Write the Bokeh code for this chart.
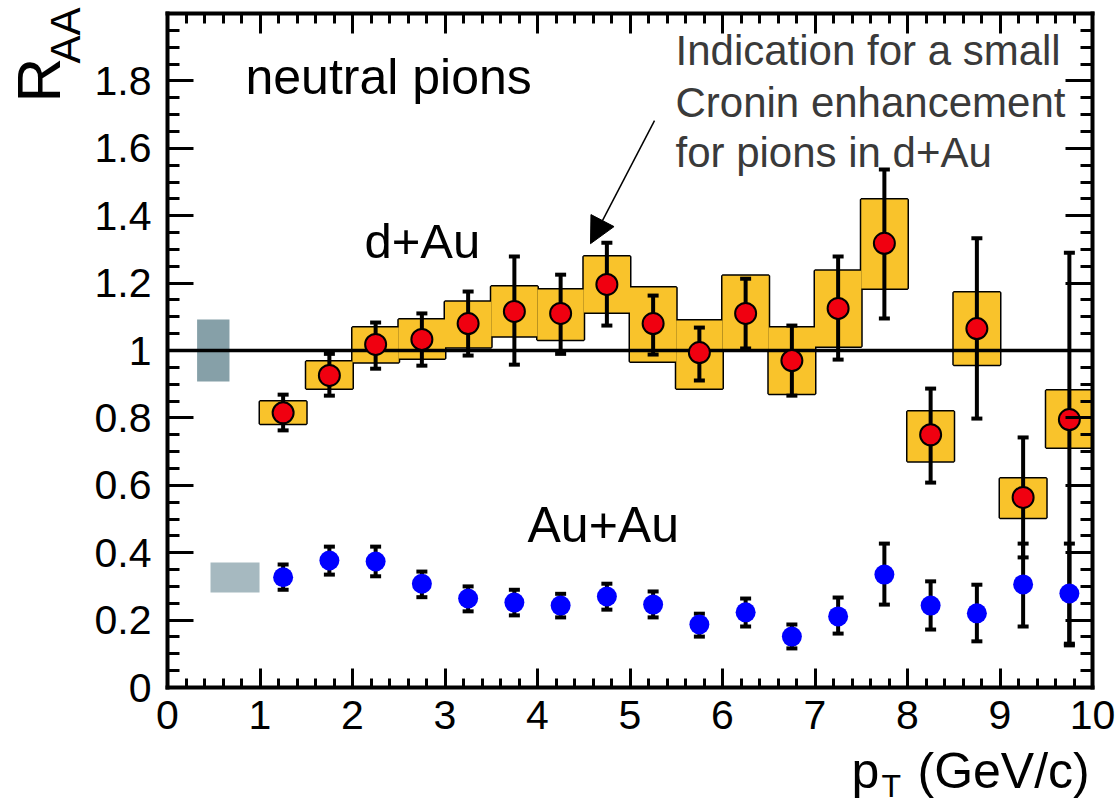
from bokeh.plotting import figure
from bokeh.models import (Range1d, FixedTicker, LinearAxis, Label, Arrow, NormalHead,
                          CustomJSTickFormatter, ColumnDataSource)
from bokeh.embed import file_html
from bokeh.resources import INLINE

# ---------------- data ----------------
pt = [1.25, 1.75, 2.25, 2.75, 3.25, 3.75, 4.25, 4.75, 5.25, 5.75,
      6.25, 6.75, 7.25, 7.75, 8.25, 8.75, 9.25, 9.75]
bin_half = 0.25

# d+Au neutral pions
dau = [0.815, 0.926, 1.018, 1.033, 1.08, 1.116, 1.11, 1.196, 1.08, 0.994,
       1.11, 0.97, 1.125, 1.318, 0.75, 1.065, 0.564, 0.795]
dau_stat_hi = [0.869, 0.99, 1.083, 1.11, 1.175, 1.279, 1.225, 1.32, 1.163, 1.068,
               1.213, 1.074, 1.279, 1.537, 0.887, 1.333, 0.742, 1.29]
dau_stat_lo = [0.763, 0.866, 0.946, 0.955, 0.985, 0.958, 0.99, 1.074, 0.988, 0.911,
               1.006, 0.866, 0.973, 1.095, 0.608, 0.798, 0.386, 0.125]
dau_sys_hi = [0.849, 0.967, 1.068, 1.092, 1.145, 1.19, 1.181, 1.279, 1.187, 1.089,
              1.222, 1.068, 1.237, 1.448, 0.819, 1.172, 0.62, 0.881]
dau_sys_lo = [0.783, 0.887, 0.965, 0.976, 1.01, 1.042, 1.032, 1.113, 0.967, 0.887,
              1.0, 0.872, 1.012, 1.184, 0.671, 0.958, 0.504, 0.712]

# Au+Au neutral pions
aa = [0.327, 0.377, 0.374, 0.308, 0.264, 0.252, 0.243, 0.27, 0.246, 0.187,
      0.223, 0.151, 0.211, 0.335, 0.243, 0.22, 0.306, 0.279]
aa_stat_hi = [0.365, 0.418, 0.418, 0.344, 0.3, 0.29, 0.278, 0.308, 0.285, 0.219,
              0.264, 0.187, 0.267, 0.427, 0.315, 0.305, 0.427, 0.427]
aa_stat_lo = [0.29, 0.335, 0.33, 0.268, 0.226, 0.214, 0.208, 0.231, 0.208, 0.151,
              0.181, 0.116, 0.16, 0.246, 0.172, 0.137, 0.181, 0.13]

# normalization uncertainty boxes: [left, right, bottom, top]
norm_dau = [0.32, 0.67, 0.908, 1.092]
norm_aa = [0.465, 0.995, 0.282, 0.371]

unity = 1.0
x_lo, x_hi = 0, 10
y_lo, y_hi = 0, 2
x_major = list(range(0, 11))
x_minor = [i * 0.2 for i in range(0, 51)]
y_major = [0, 0.2, 0.4, 0.6, 0.8, 1.0, 1.2, 1.4, 1.6, 1.8]
y_minor = [i * 0.05 for i in range(0, 41)]

FONT = "Liberation Sans"
YELLOW = "#f9c32b"

# canvas geometry: data box spans px 167..1092 horizontally and 13..687 vertically
W, H = 1115, 806
PX_L, PX_R, PY_T, PY_B = 167, 1092, 13, 687
sx = (PX_R - PX_L) / (x_hi - x_lo)
sy = (PY_B - PY_T) / (y_hi - y_lo)
xr = Range1d(x_lo - PX_L / sx, x_lo + (W - PX_L) / sx)
yr = Range1d(y_lo - (H - PY_B) / sy, y_lo + PY_B / sy)

# ---------------- figure ----------------
p = figure(width=W, height=H, x_range=xr, y_range=yr,
           output_backend="svg", toolbar_location=None, x_axis_location=None,
           y_axis_location=None, min_border=0)
p.xgrid.visible = False
p.ygrid.visible = False
p.outline_line_color = None
p.background_fill_color = "white"
p.border_fill_color = "white"

fmt = CustomJSTickFormatter(code="return tick.toFixed(1).replace(/\\.0$/, '');")
fmtx = CustomJSTickFormatter(code="return tick.toFixed(0);")
fmt_blank = CustomJSTickFormatter(code="return '';")


def style_axis(ax, major_len, minor_len, show_labels):
    ax.axis_line_width = 4
    ax.axis_line_color = "black"
    ax.axis_line_cap = "square"
    ax.major_tick_in = major_len
    ax.major_tick_out = 0
    ax.minor_tick_in = minor_len
    ax.minor_tick_out = 0
    ax.major_tick_line_width = 3
    ax.minor_tick_line_width = 3
    ax.major_tick_line_color = "black"
    ax.minor_tick_line_color = "black"
    if show_labels:
        ax.major_label_text_font = FONT
        ax.major_label_text_font_size = "41px"
        ax.major_label_text_color = "black"
    else:
        ax.major_label_text_font_size = "1px"
        ax.major_label_standoff = 0


bottom = LinearAxis(ticker=FixedTicker(ticks=x_major, minor_ticks=x_minor), formatter=fmtx,
                    fixed_location=y_lo, bounds=(x_lo, x_hi))
style_axis(bottom, 19, 9, True)
bottom.major_label_standoff = 13
top = LinearAxis(ticker=FixedTicker(ticks=x_major, minor_ticks=x_minor), formatter=fmt_blank,
                 fixed_location=y_hi, bounds=(x_lo, x_hi))
style_axis(top, 20, 10, False)
left = LinearAxis(ticker=FixedTicker(ticks=y_major, minor_ticks=y_minor), formatter=fmt,
                  fixed_location=x_lo, bounds=(y_lo, y_hi))
style_axis(left, 26, 12, True)
left.major_label_standoff = 16
right = LinearAxis(ticker=FixedTicker(ticks=y_major, minor_ticks=y_minor), formatter=fmt_blank,
                   fixed_location=x_hi, bounds=(y_lo, y_hi))
style_axis(right, 27, 12, False)
p.add_layout(bottom, "below")
p.add_layout(top, "above")
p.add_layout(left, "left")
p.add_layout(right, "right")

# ---------------- systematic boxes (union outline) ----------------
box_src = ColumnDataSource(dict(
    left=[x - bin_half for x in pt], right=[x + bin_half for x in pt],
    bottom=dau_sys_lo, top=dau_sys_hi))
p.quad(left="left", right="right", bottom="bottom", top="top", source=box_src,
       fill_color=YELLOW, line_color="black", line_width=3)
p.quad(left="left", right="right", bottom="bottom", top="top", source=box_src,
       fill_color=YELLOW, line_color=None)

p.quad(left=[norm_dau[0]], right=[norm_dau[1]], bottom=[norm_dau[2]], top=[norm_dau[3]],
       fill_color="#86a0a8", line_color=None)
p.quad(left=[norm_aa[0]], right=[norm_aa[1]], bottom=[norm_aa[2]], top=[norm_aa[3]],
       fill_color="#a6b9c0", line_color=None)

# unity line
p.segment(x0=[x_lo], y0=[unity], x1=[x_hi], y1=[unity], line_color="black", line_width=3.5)

# ---------------- error bars ----------------
p.segment(x0=pt, y0=dau_stat_lo, x1=pt, y1=dau_stat_hi, line_color="black", line_width=4)
p.scatter(pt, dau_stat_hi, marker="dash", size=11, line_width=4, line_color="black")
p.scatter(pt, dau_stat_lo, marker="dash", size=11, line_width=4, line_color="black")

p.segment(x0=pt, y0=aa_stat_lo, x1=pt, y1=aa_stat_hi, line_color="black", line_width=4)
p.scatter(pt, aa_stat_hi, marker="dash", size=11, line_width=4, line_color="black")
p.scatter(pt, aa_stat_lo, marker="dash", size=11, line_width=4, line_color="black")

# ---------------- points ----------------
p.scatter(pt, dau, size=21, fill_color="#f00010", line_color="black", line_width=2)
p.scatter(pt, aa, size=20, fill_color="#0000ff", line_color=None)

# ---------------- texts ----------------
# labels are placed by their baseline in canvas pixels (converted to data units);
# a small correction compensates the renderer's vertical text offset.
SHIFT = 0.36


def label_at(px, py, text, size_px, color="black", vertical=False):
    if vertical:
        x = x_lo + (px - PX_L - SHIFT * size_px) / sx
        y = y_lo + (PY_B - py) / sy
        angle = 1.5708
    else:
        x = x_lo + (px - PX_L) / sx
        y = y_lo + (PY_B - py + SHIFT * size_px) / sy
        angle = 0.0
    p.add_layout(Label(x=x, y=y, text=text, text_font=FONT, text_font_size=f"{size_px}px",
                       text_color=color, text_align="left", text_baseline="alphabetic",
                       angle=angle))


label_at(245, 94, "neutral pions", 50)
label_at(364, 258, "d+Au", 49)
label_at(527, 542, "Au+Au", 50)

note_color = "#3a3a3a"
label_at(675, 65, "Indication for a small", 42, note_color)
label_at(675, 117, "Cronin enhancement", 42, note_color)
label_at(675, 167, "for pions in d+Au", 42, note_color)

p.add_layout(Arrow(end=NormalHead(size=26, fill_color="black", line_color="black", line_width=1),
                   x_start=5.265, y_start=1.682, x_end=4.573, y_end=1.317,
                   line_color="black", line_width=1.5))

# axis titles
label_at(851, 788, "p", 50)
label_at(881, 797, "T", 32)
label_at(917, 788, "(GeV/c)", 50)
label_at(60, 102, "R", 62, vertical=True)
label_at(80, 63, "AA", 42, vertical=True)

open("out.html", "w").write(file_html(p, INLINE))
